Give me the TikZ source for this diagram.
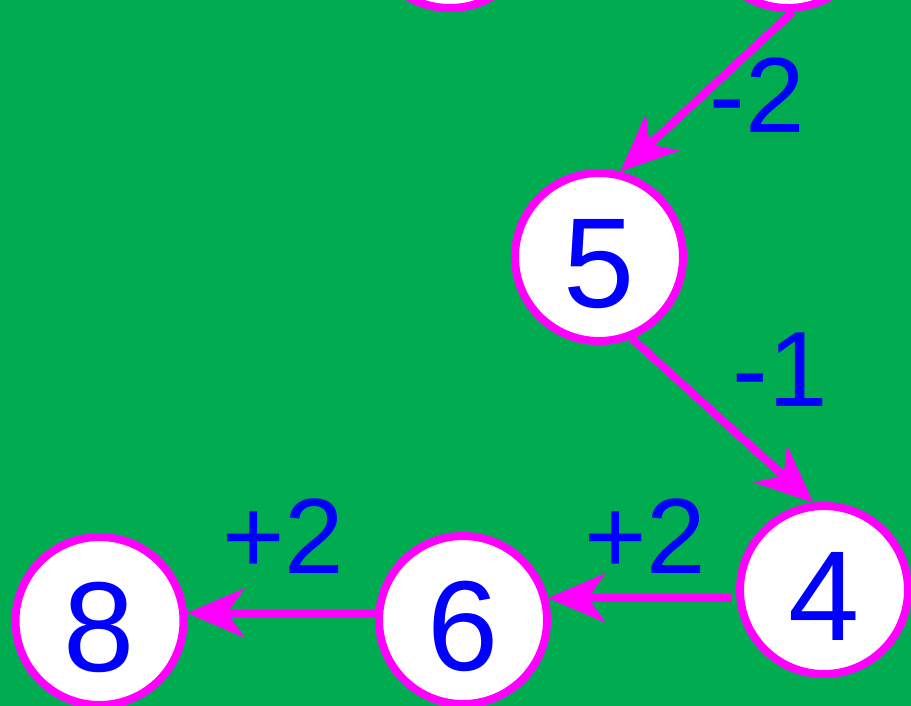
\documentclass[tikz,border=0pt]{standalone}
\usepackage{fontspec}
\setmainfont{Liberation Sans}
\usetikzlibrary{arrows.meta,calc}
\definecolor{bg}{RGB}{0,172,79}
\definecolor{mag}{RGB}{255,0,255}
\definecolor{blu}{RGB}{0,0,255}
\newcommand{\dropdigit}[1]{\raisebox{-4pt}{#1}}
\begin{document}
\begin{tikzpicture}[x=1pt,y=-1pt,
  vtx/.style={circle,draw=mag,fill=white,line width=8pt,minimum size=168pt,inner sep=0pt,text=blu,text height=92pt,text depth=0pt,font=\fontsize{128}{128}\selectfont},
  lbl/.style={text=blu,font=\fontsize{107}{107}\selectfont,anchor=base,inner sep=0pt},
  conn/.style={draw=mag,line width=8pt,-{Stealth[length=58pt,width=50pt,inset=18pt,line width=0pt]}}]
\useasboundingbox (0,0) rectangle (911,706);
\clip (0,0) rectangle (911,706);
\fill[bg] (0,0) rectangle (911,706);
\node[vtx] (a) at (450,-76) {};
\node[vtx] (b) at (788,-76) {};
\node[vtx] (n5) at (599,257) {\dropdigit{5}};
\node[vtx] (n4) at (824,590) {\dropdigit{4}};
\node[vtx] (n6) at (463,620) {\dropdigit{6}};
\node[vtx] (n8) at (99.5,621) {\dropdigit{8}};
\coordinate (s46) at ($(n4)+(-93,8)$);
\coordinate (t46) at ($(n6)+(85,-22)$);
\coordinate (s68) at ($(n6)+(-81,-7)$);
\coordinate (t68) at ($(n8)+(87.5,-8)$);
\draw[conn] (b.-87) -- (n5.76);
\draw[conn] (n5.-68) -- (n4.97);
\draw[conn] (s46) -- (t46);
\draw[conn] (s68) -- (t68);
\node[lbl] (l1) at (757,133) {-2};
\node[lbl] (l2) at (780,406) {-1};
\node[lbl] (l3) at (645,573) {+2};
\node[lbl] (l4) at (283,573) {+2};
\end{tikzpicture}
\end{document}
